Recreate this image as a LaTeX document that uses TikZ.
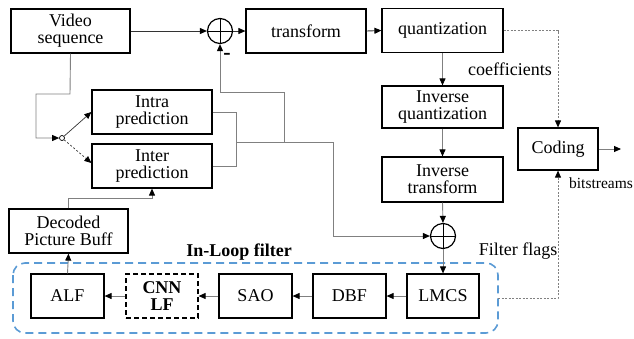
\documentclass[tikz,border=0pt]{standalone}
\usepackage{fontspec}
\setmainfont{Liberation Serif}
\usetikzlibrary{arrows.meta,calc}
\definecolor{conncol}{gray}{0.5}
\definecolor{loopblue}{RGB}{91,155,213}
\begin{document}
\begin{tikzpicture}[x=1pt,y=-1pt,
  box/.style={draw=black,line width=1.2pt,minimum width=120pt,minimum height=44pt,inner sep=1pt,align=center,font=\fontsize{18}{20}\selectfont},
  sbox/.style={box,minimum width=73pt},
  sumnode/.style={draw=black,line width=1.2pt,circle,minimum size=25pt,inner sep=0pt,
     path picture={\draw[line width=1pt] (path picture bounding box.north) -- (path picture bounding box.south)
       (path picture bounding box.west) -- (path picture bounding box.east);}},
  conn/.style={draw=conncol,line width=0.9pt},
  arr/.style={conn,-{Triangle[length=7pt,width=6pt,color=black]}},
  dotarr/.style={draw=conncol,line width=0.9pt,dash pattern=on 2pt off 1.5pt,-{Triangle[length=7pt,width=6pt,color=black]}},
  lbl/.style={font=\fontsize{18}{20}\selectfont,inner sep=0pt}
]
\useasboundingbox (0,0) rectangle (634,338);
% in-loop filter frame
\draw[loopblue,line width=1.6pt,dash pattern=on 8pt off 5pt,rounded corners=12pt] (13,263) rectangle (498,333);
% nodes
\node[box,minimum width=119pt] (vs) at (70.5,31) {Video\\[-3pt]sequence};
\node[sumnode] (sum1) at (220,31) {};
\node[box] (tr) at (306,31) {transform};
\node[box,minimum width=121pt] (qu) at (442.5,30.5) {quantization};
\node[box,minimum width=121pt,minimum height=42pt] (iq) at (442.5,107) {Inverse\\[-3pt]quantization};
\node[box,minimum width=121pt,minimum height=45pt] (it) at (442.5,179.5) {Inverse\\[-3pt]transform};
\node[sumnode] (sum2) at (443,236) {};
\node[box,minimum width=80pt,minimum height=42pt] (cod) at (558,149) {Coding};
\node[sbox,minimum width=72pt] (lmcs) at (443,296) {LMCS};
\node[sbox] (dbf) at (349.5,296) {DBF};
\node[sbox] (sao) at (255.5,296) {SAO};
\node[sbox,minimum width=72pt,dashed,dash pattern=on 5pt off 3pt,font=\fontsize{18}{17}\selectfont\bfseries] (cnn) at (162,296) {CNN\\LF};
\node[sbox] (alf) at (67.5,296) {ALF};
\node[box,minimum width=119pt] (dpb) at (68.5,231) {Decoded\\[-3pt]Picture Buff};
\node[box] (intra) at (152,112) {Intra\\[-3pt]prediction};
\node[box] (inter) at (152,166) {Inter\\[-3pt]prediction};
\node[draw=black,fill=white,circle,inner sep=0pt,minimum size=5pt,line width=0.7pt] (sw) at (62,138) {};
% labels
\node[lbl,font=\fontsize{22}{22}\selectfont\bfseries] (minus) at (227,56) {-};
\node[lbl] (coef) at (510,69) {coefficients};
\node[lbl,font=\fontsize{15.5}{17}\selectfont] (bits) at (601,183) {bitstreams};
\node[lbl,font=\fontsize{18}{20}\selectfont\bfseries] (ilf) at (239,252) {In-Loop filter};
\node[lbl] (ff) at (518,251) {Filter flags};
% coordinates
\coordinate (c1) at (70,94);
\coordinate (c2) at (36,94);
\coordinate (c3) at (36,138);
\coordinate (j1) at (236,112);
\coordinate (j2) at (236,166);
\coordinate (j3) at (236,142);
\coordinate (j4) at (284,142);
\coordinate (j5) at (284,92);
\coordinate (j6) at (220,92);
\coordinate (j7) at (333,142);
\coordinate (j8) at (333,236);
\coordinate (d1) at (68.5,198);
\coordinate (d2) at (152,198);
\coordinate (q1) at (558,30.5);
\coordinate (f1) at (498,298);
\coordinate (f2) at (558,298);
\coordinate (out) at (621,149);
% connectors
\draw[arr,draw=black!80] (vs.east |- sum1) -- (sum1.west);
\draw[arr,draw=black!80] (sum1.east) -- (tr.west);
\draw[arr,draw=black!80] (tr.east) -- (qu.west);
\draw[arr] (qu.south) -- (iq.north);
\draw[arr] (iq.south) -- (it.north);
\draw[arr] (it.south) -- (sum2.north);
\draw[arr] (sum2.south) -- (lmcs.north);
\draw[arr] (lmcs.west) -- (dbf.east);
\draw[arr] (dbf.west) -- (sao.east);
\draw[arr] (sao.west) -- (cnn.east);
\draw[arr] (cnn.west) -- (alf.east);
\draw[arr] (alf.north) -- (dpb.south);
\draw[arr] (dpb.north) -- (d1) -- (d2) -- (inter.south);
\draw[arr] (vs.south) -- (c1) -- (c2) -- (c3) -- (sw.west);
\draw[draw=black!80,line width=0.7pt,-{Triangle[length=7pt,width=6pt,color=black]}] (sw) -- (intra.west);
\draw[draw=black!80,line width=0.7pt,dashed,dash pattern=on 2pt off 2pt,-{Triangle[length=7pt,width=6pt,color=black]}] (sw) -- ($(inter.west)+(0,-3)$);
\draw[conn] (intra.east) -- (j1) -- (j2) -- (inter.east);
\draw[arr] (j3) -- (j7) -- (j8) -- (sum2.west);
\draw[arr] (j4) -- (j5) -- (j6) -- (sum1.south);
\draw[dotarr] (qu.east) -- (q1) -- (cod.north);
\draw[dotarr] (f1) -- (f2) -- (cod.south);
\draw[arr] (cod.east) -- (out);
\end{tikzpicture}
\end{document}
